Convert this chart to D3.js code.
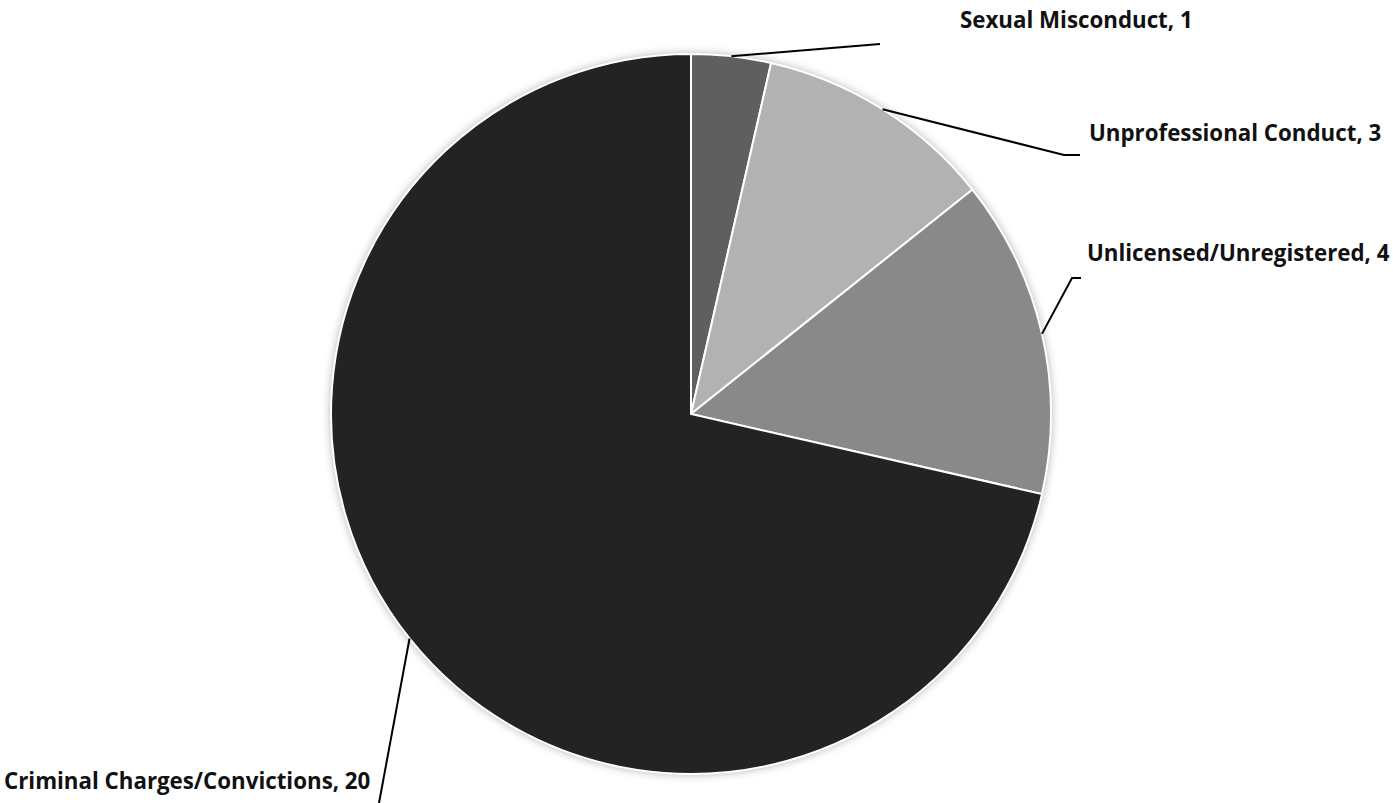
<!DOCTYPE html>
<html lang="en">
<head>
    <meta charset="UTF-8">
    <title>Complaints by type</title>
    <style type="text/css">
        body { margin: 0; background: #fff; }
        .slice { stroke: #fff; stroke-width: 2; }
        .leader { fill: none; stroke: #000; stroke-width: 2; }
        .label { font-family: "Open Sans", "Noto Sans", sans-serif; font-weight: bold; font-size: 22.3px; fill: #111; }
    </style>
</head>
<body>
    <svg></svg>

    <script src="https://d3js.org/d3.v7.min.js"></script>
    <script>
        // data
        var categories = ["Sexual Misconduct", "Unprofessional Conduct", "Unlicensed/Unregistered", "Criminal Charges/Convictions"]
        var counts = [1, 3, 4, 20]
        var colours = ["#5f5f5f", "#b2b2b2", "#898989", "#232323"]

        // where each label sits: [elbow x, elbow y, end x, end y, text x, text baseline]
        var labelSpots = [
            [880, 44, 880, 44, 960, 28],
            [1064, 155, 1080, 155, 1089, 141],
            [1072, 278, 1081, 278, 1087, 261],
            [379, 803, 379, 803, 4, 789]
        ]

        var svgWidth = 1393
        var svgHeight = 803
        var cx = 691, cy = 414, radius = 360

        var svg = d3.select('svg')
            .attr("width", svgWidth)
            .attr("height", svgHeight)

        var defs = svg.append("defs")
        var shadow = defs.append("filter").attr("id", "soft")
            .attr("x", "-10%").attr("y", "-10%").attr("width", "120%").attr("height", "120%")
        shadow.append("feDropShadow")
            .attr("dx", 0).attr("dy", 0)
            .attr("stdDeviation", 5)
            .attr("flood-color", "#000")
            .attr("flood-opacity", 0.35)

        var data = categories.map(function(c, i){
            return { name: c, value: counts[i], colour: colours[i], spot: labelSpots[i] }
        })

        var pie = d3.pie().sort(null).value(function(d){ return d.value })
        var arc = d3.arc().innerRadius(0).outerRadius(radius)

        var arcs = pie(data)

        var g = svg.append("g").attr("transform", "translate(" + cx + "," + cy + ")")

        g.append("circle").attr("r", radius).attr("fill", "#fff").attr("filter", "url(#soft)")

        g.selectAll("path.slice")
            .data(arcs)
            .enter()
            .append("path")
            .attr("class", "slice")
            .attr("d", arc)
            .attr("fill", function(d){ return d.data.colour })

        // leader lines start at the rim, at the middle of each slice
        svg.selectAll("path.leader")
            .data(arcs)
            .enter()
            .append("path")
            .attr("class", "leader")
            .attr("d", function(d){
                var mid = (d.startAngle + d.endAngle) / 2
                var x0 = cx + radius * Math.sin(mid)
                var y0 = cy - radius * Math.cos(mid)
                var s = d.data.spot
                return "M" + x0 + "," + y0 + "L" + s[0] + "," + s[1] + "L" + s[2] + "," + s[3]
            })

        svg.selectAll("text.label")
            .data(arcs)
            .enter()
            .append("text")
            .attr("class", "label")
            .attr("x", function(d){ return d.data.spot[4] })
            .attr("y", function(d){ return d.data.spot[5] })
            .text(function(d){ return d.data.name + ", " + d.data.value })
    </script>
</body>
</html>
